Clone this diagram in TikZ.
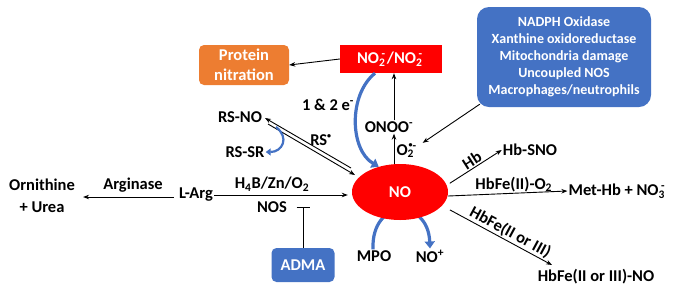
\documentclass[tikz,border=0pt]{standalone}
\usepackage{fontspec}
\setmainfont{Carlito}
\usetikzlibrary{shapes.geometric,arrows.meta}
\definecolor{nred}{RGB}{255,0,0}
\definecolor{norange}{RGB}{237,125,49}
\definecolor{nblue}{RGB}{68,114,196}
\newcommand{\ssup}[2]{{\fontsize{11.5}{11.5}\selectfont\rlap{\kern2.5pt\raisebox{1.05ex}{#2}}\raisebox{-0.5ex}{#1}}}
\newcommand{\rad}{{\fontsize{8}{8}\selectfont\raisebox{0.35ex}{•}}}
\begin{document}
\begin{tikzpicture}[x=1pt,y=-1pt,
  every node/.style={font=\bfseries\fontsize{16.5}{20}\selectfont, inner sep=1pt},
  arr/.style={-{Stealth[length=6pt,width=4.5pt]}, line width=0.9pt},
  barr/.style={nblue, line width=3.2pt, -{Triangle[length=7pt,width=10pt]}},
  sbarr/.style={nblue, line width=2.2pt, -{Triangle[length=5pt,width=7pt]}},
  wbox/.style={text=white}]
\useasboundingbox (0,0) rectangle (675,293);

% MPO -> NO+ (behind ellipse)
\node (mpo) at (374,256) {MPO};
\node (nop) at (430,256) {NO\textsuperscript{+}};
\draw[barr] ([shift={(-1,0)}]mpo.north) .. controls (371,198) and (428,198) .. (nop.north);

\node (no) [ellipse, fill=nred, wbox, minimum width=96pt, minimum height=56pt] at (400,192) {NO};
\node (no2) [fill=nred, wbox, minimum width=102pt, minimum height=28pt] at (391,59) {NO\ssup{2}{-}\kern2pt/NO\ssup{2}{-}\kern3pt};
\node (prot) [fill=norange, wbox, rounded corners=5pt, minimum width=90pt, minimum height=40pt, align=center] at (244,65) {Protein\\nitration};
\node (src) [fill=nblue, wbox, rounded corners=12pt, minimum width=174pt, minimum height=100pt, align=center, font=\bfseries\fontsize{14}{17}\selectfont] at (564,57)
  {NADPH Oxidase\\Xanthine oxidoreductase\\Mitochondria damage\\Uncoupled NOS\\Macrophages/neutrophils};
\node (onoo) at (389,127) {ONOO\textsuperscript{-}};
\node (o2) at (409,151) {O{\fontsize{11.5}{11.5}\selectfont\rlap{\kern1pt\raisebox{1.05ex}{\rad-}}\raisebox{-0.5ex}{2}}\kern8pt};
\node (e12) at (328,105) {1 \& 2 e\textsuperscript{-}};
\node (rsno) at (240,117) {RS-NO};
\node (rssr) at (245,152) {RS-SR};
\node (rs) at (321,140) {RS\textsuperscript{\rad}};
\node (larg) at (196,195) {L-Arg};
\node (orn) [align=center, font=\bfseries\fontsize{16.5}{22}\selectfont] at (42,196) {Ornithine\\+ Urea};
\node (argase) at (133,185) {Arginase};
\node (h4b) at (272,184) {H\textsubscript{4}B/Zn/O\textsubscript{2}};
\node (nos) at (272,207) {NOS};
\node (adma) [fill=nblue, wbox, rounded corners=5pt, minimum width=63pt, minimum height=34pt] at (303,265) {ADMA};
\node (hbsno) at (530,150) {Hb-SNO};
\node (methb) at (618,191) {Met-Hb + NO\ssup{3}{-}\kern3pt};
\node (hbno) at (596,277) {HbFe(II or III)-NO};

\coordinate (ax) at (394,0);
\coordinate (u1) at (351,168);
\coordinate (u2) at (265,118);
\coordinate (l1) at (268,124);
\coordinate (l2) at (355,175);
\coordinate (hbend) at (552,265);

% connectors
\draw[arr] (no2.west) -- (prot.east);
\draw[arr] (no.north -| ax) -- (onoo.south -| ax);
\draw[arr] (onoo.north -| ax) -- (no2.south -| ax);
\draw[arr] ([shift={(3,-3)}]src.south west) -- (o2.north east);
\draw[arr] (larg.east) -- ([shift={(-4,0)}]larg.east -| no.west);
\draw[arr] ([shift={(-4,2)}]larg.west) -- ([shift={(7,2)}]orn.east |- larg.west);
\draw[line width=0.9pt, -{Bar[width=13pt]}] (adma.north) -- (adma.north |- nos);
\draw[arr] (u1) -- (u2);
\draw[arr] (l1) -- (l2);
\draw[arr] ([shift={(6,3)}]no.15) -- node[above, sloped, pos=0.5] {Hb} (hbsno.west);
\draw[arr] ([shift={(0,4)}]no.east) -- node[above, pos=0.55] {HbFe(II)-O\textsubscript{2}} (methb.west);
\draw[arr] ([shift={(9,3)}]no.-20) -- node[above, sloped, pos=0.55] {HbFe(II or III)} (hbend);

% blue curved arrows
\draw[barr] ([shift={(-16,0)}]no2.south) .. controls (348,95) and (350,150) .. (no.130);
\draw[sbarr] (276,127) .. controls (290,138) and (282,152) .. (rssr.east);
\end{tikzpicture}
\end{document}
